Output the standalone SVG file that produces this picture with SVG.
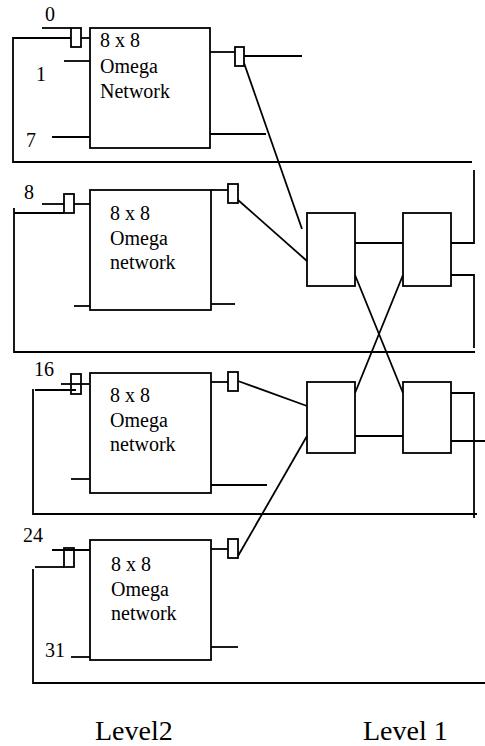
<svg xmlns="http://www.w3.org/2000/svg" width="485" height="746" viewBox="0 0 485 746">
<style>
.b{fill:#fff;stroke:#000;stroke-width:1.8}
.l{fill:none;stroke:#000;stroke-width:1.8}
text{font-family:"Liberation Serif","Times New Roman",serif;font-size:20px;fill:#000}
.lv{font-size:28px}
</style>
<rect width="485" height="746" fill="#fff"/>
<g id="connectors" class="l">
<!-- block 1 -->
<polyline points="42,28 71,28"/>
<polyline points="81,38 90,38"/>
<polyline points="71,38 13,38 13,162 472,162"/>
<line x1="64" y1="61" x2="90" y2="61"/>
<line x1="52" y1="137" x2="90" y2="137"/>
<line x1="205" y1="52" x2="235" y2="52"/>
<line x1="244" y1="56" x2="302" y2="56"/>
<line x1="208" y1="134" x2="266" y2="134"/>
<line x1="244" y1="63" x2="302" y2="229"/>
<!-- block 2 -->
<line x1="42" y1="204" x2="64" y2="204"/>
<line x1="74" y1="204" x2="90" y2="204"/>
<polyline points="64,213 14,213"/>
<polyline points="14,208 14,352 475,352"/>
<line x1="211" y1="190" x2="228" y2="190"/>
<line x1="238" y1="200" x2="307" y2="261"/>
<line x1="74" y1="306" x2="93" y2="306"/>
<line x1="205" y1="304" x2="235" y2="304"/>
<!-- block 3 -->
<line x1="61" y1="384" x2="90" y2="384"/>
<line x1="35" y1="390" x2="76" y2="390"/>
<polyline points="33,389 33,514 477,514"/>
<line x1="205" y1="382" x2="228" y2="382"/>
<line x1="238" y1="381" x2="307" y2="406"/>
<line x1="71" y1="479" x2="90" y2="479"/>
<line x1="211" y1="485" x2="267" y2="485"/>
<!-- block 4 -->
<line x1="52" y1="550" x2="96" y2="550"/>
<line x1="35" y1="567" x2="64" y2="567"/>
<polyline points="33,569 33,683 485,683"/>
<line x1="205" y1="549" x2="228" y2="549"/>
<line x1="238" y1="556" x2="307" y2="436"/>
<line x1="71" y1="657" x2="90" y2="657"/>
<line x1="208" y1="647" x2="238" y2="647"/>
<!-- level 1 -->
<line x1="355" y1="243" x2="403" y2="243"/>
<line x1="355" y1="436" x2="403" y2="436"/>
<line x1="355" y1="275" x2="403" y2="393"/>
<line x1="403" y1="275" x2="355" y2="393"/>
<polyline points="451,243 474,243 474,170"/>
<polyline points="445,275 474,275 474,348"/>
<polyline points="445,393 474,393 474,518"/>
<line x1="445" y1="441" x2="485" y2="441"/>
</g>
<g id="net1">
<rect class="b" x="90" y="28" width="120" height="120"/>
<text x="100" y="47">8 x 8</text>
<text x="100" y="73">Omega</text>
<text x="100" y="98">Network</text>
</g>
<g id="net2">
<rect class="b" x="90" y="190" width="121" height="120"/>
<text x="110" y="220">8 x 8</text>
<text x="110" y="245">Omega</text>
<text x="110" y="269">network</text>
</g>
<g id="net3">
<rect class="b" x="90" y="373" width="121" height="120"/>
<text x="110" y="402">8 x 8</text>
<text x="110" y="427">Omega</text>
<text x="110" y="451">network</text>
</g>
<g id="net4">
<rect class="b" x="90" y="540" width="121" height="120"/>
<text x="111" y="571">8 x 8</text>
<text x="111" y="596">Omega</text>
<text x="111" y="620">network</text>
</g>
<g id="buffers">
<rect class="b" x="71" y="28" width="10" height="19"/>
<rect class="b" x="235" y="47" width="9" height="19"/>
<rect class="b" x="64" y="194" width="10" height="19"/>
<rect class="b" x="228" y="184" width="10" height="19"/>
<rect class="b" x="71" y="374" width="10" height="20" fill="none" style="fill:none"/>
<rect class="b" x="228" y="372" width="10" height="19"/>
<rect class="b" x="64" y="548" width="10" height="19" style="fill:none"/>
<rect class="b" x="228" y="539" width="10" height="19"/>
</g>
<g id="switches">
<rect class="b" x="307" y="213" width="48" height="73"/>
<rect class="b" x="403" y="213" width="48" height="73"/>
<rect class="b" x="307" y="382" width="48" height="71"/>
<rect class="b" x="403" y="382" width="48" height="71"/>
</g>
<g id="labels">
<text x="45" y="21">0</text>
<text x="36" y="81">1</text>
<text x="26" y="147">7</text>
<text x="24" y="199">8</text>
<text x="34" y="376">16</text>
<text x="23" y="542">24</text>
<text x="45" y="657">31</text>
<text class="lv" x="95" y="740">Level2</text>
<text class="lv" x="363" y="740">Level 1</text>
</g>
</svg>
